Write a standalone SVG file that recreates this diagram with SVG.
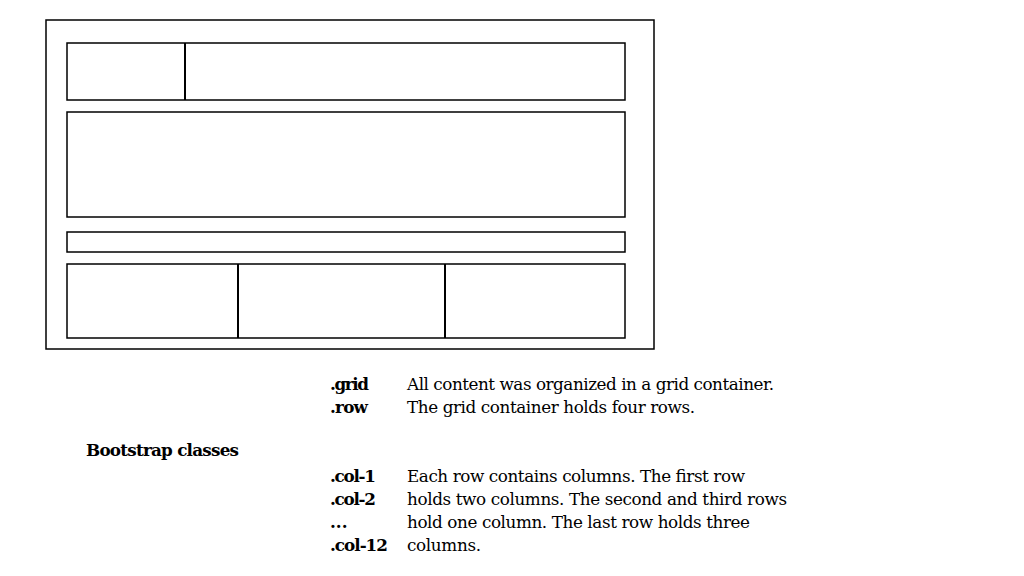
<svg xmlns="http://www.w3.org/2000/svg" width="1024" height="576" viewBox="0 0 1024 576">
<style>
rect{fill:#fff;stroke:#000;stroke-width:1.5}
line{stroke:#000;stroke-width:2}
text{font-family:"DejaVu Serif","Liberation Serif",serif;font-size:16.8px;fill:#000}
.b{font-weight:bold}
</style>
<rect width="1024" height="576" style="stroke:none"/>
<g id="container"><rect x="46" y="20" width="608" height="329"/></g>
<g id="row1"><rect x="67" y="43" width="558" height="57"/><line x1="185" y1="43" x2="185" y2="100"/></g>
<g id="row2"><rect x="67" y="112" width="558" height="105"/></g>
<g id="row3"><rect x="67" y="232" width="558" height="20"/></g>
<g id="row4"><rect x="67" y="264" width="558" height="74"/><line x1="238" y1="264" x2="238" y2="338"/><line x1="445" y1="264" x2="445" y2="338"/></g>
<g id="connectors"/>
<g id="labels">
<text x="330" y="390" class="b" textLength="39">.grid</text>
<text x="330" y="413" class="b" textLength="38">.row</text>
<text x="407" y="390" textLength="367">All content was organized in a grid container.</text>
<text x="407" y="413" textLength="288">The grid container holds four rows.</text>
<text x="86" y="456" class="b" textLength="153">Bootstrap classes</text>
<text x="330" y="482" class="b" textLength="46">.col-1</text>
<text x="330" y="505" class="b" textLength="46">.col-2</text>
<text x="330" y="528" class="b">...</text>
<text x="330" y="551" class="b" textLength="58">.col-12</text>
<text x="407" y="482" textLength="338">Each row contains columns. The first row</text>
<text x="407" y="505" textLength="380">holds two columns. The second and third rows</text>
<text x="407" y="528" textLength="343">hold one column. The last row holds three</text>
<text x="407" y="551" textLength="74">columns.</text>
</g>
</svg>
